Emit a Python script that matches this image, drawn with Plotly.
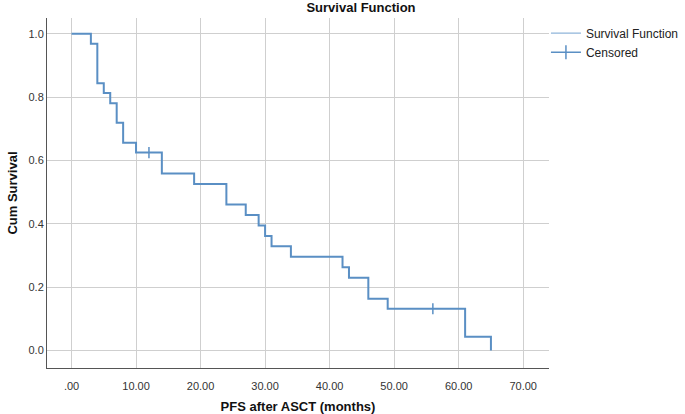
import plotly.graph_objects as go

# Data
times = [0, 3, 4, 5, 6, 7, 8, 10, 14, 19, 24, 27, 29, 30, 31, 34, 42, 43, 46, 49, 61, 65]
survival = [1.0, 0.969, 0.844, 0.813, 0.781, 0.719, 0.656, 0.625, 0.559, 0.526, 0.461,
            0.428, 0.395, 0.362, 0.329, 0.296, 0.263, 0.230, 0.164, 0.132, 0.044, 0.0]
censor_times = [12, 56]
censor_surv = [0.625, 0.132]
x_ticks = [0, 10, 20, 30, 40, 50, 60, 70]
x_tick_labels = [".00", "10.00", "20.00", "30.00", "40.00", "50.00", "60.00", "70.00"]
y_ticks = [0.0, 0.2, 0.4, 0.6, 0.8, 1.0]

COLOR = "#5a8fc4"
FONT = "Liberation Sans, Arial, sans-serif"

fig = go.Figure()
fig.add_trace(go.Scatter(x=times, y=survival, mode="lines", line=dict(color=COLOR, width=2, shape="hv"),
                         showlegend=False, hoverinfo="x+y"))
fig.add_trace(go.Scatter(x=censor_times, y=censor_surv, mode="markers",
                         marker=dict(symbol="line-ns", size=8, line=dict(color=COLOR, width=1.5)),
                         showlegend=False))
# legend entries
fig.add_trace(go.Scatter(x=[None], y=[None], mode="lines", line=dict(color="#8fb5da", width=1.2),
                         name="Survival Function"))
fig.add_trace(go.Scatter(x=[None], y=[None], mode="lines+markers", line=dict(color=COLOR, width=1.5),
                         marker=dict(symbol="line-ns", size=10, line=dict(color=COLOR, width=1.5)),
                         name="Censored"))

fig.update_layout(
    width=685, height=414,
    margin=dict(l=47, r=136, t=18, b=46, autoexpand=False),
    paper_bgcolor="white", plot_bgcolor="white",
    font=dict(family=FONT, size=11, color="#333333"),
    title=dict(text="<b>Survival Function</b>", x=0.527, xanchor="center", y=0.981, yanchor="middle",
               font=dict(family=FONT, size=13, color="#111111")),
    legend=dict(xref="container", yref="container", x=0.797, y=0.955, xanchor="left", yanchor="top",
                itemwidth=30, font=dict(family=FONT, size=12, color="#222222"), tracegroupgap=0,
                bgcolor="rgba(0,0,0,0)"),
    showlegend=True,
)
fig.update_xaxes(range=[-3.8, 74], tickvals=x_ticks, ticktext=x_tick_labels, automargin=False,
                 showgrid=True, gridcolor="#cfcfcf", gridwidth=1,
                 showline=True, linecolor="#555555", linewidth=1, mirror=False,
                 zeroline=False, ticks="", ticklabelstandoff=8,
                 title=dict(text="<b>PFS after ASCT (months)</b>", standoff=14,
                            font=dict(family=FONT, size=13, color="#111111")))
fig.update_yaxes(range=[-0.055, 1.05], tickvals=y_ticks, tickformat=".1f", automargin=False,
                 showgrid=True, gridcolor="#cfcfcf", gridwidth=1,
                 showline=True, linecolor="#555555", linewidth=1, mirror=False,
                 zeroline=False, ticks="", ticklabelstandoff=0,
                 title=dict(text="<b>Cum Survival</b>", standoff=7,
                            font=dict(family=FONT, size=13, color="#111111")))

fig.write_html("out.html", config={"displayModeBar": False},
               post_script="document.body.style.margin='0';")
